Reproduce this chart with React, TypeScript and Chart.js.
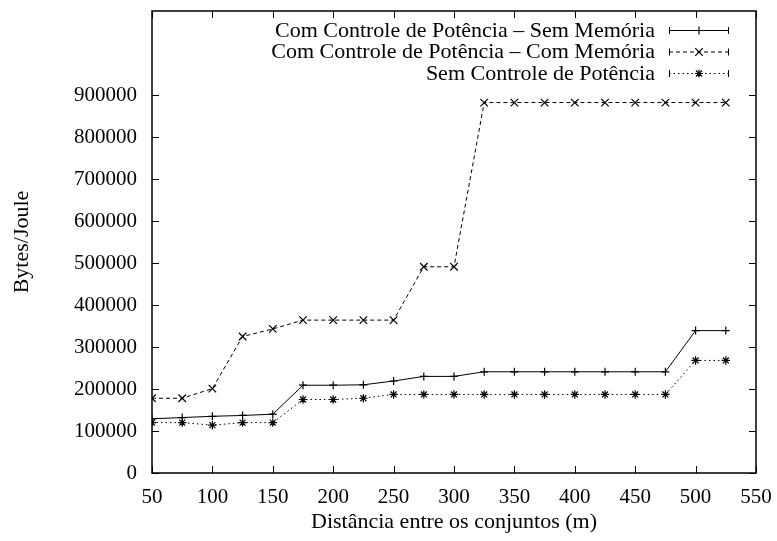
import React, { useEffect, useRef } from "react";
import { Chart, registerables } from "chart.js";

Chart.register(...registerables);

const distances = [50, 75, 100, 125, 150, 175, 200, 225, 250, 275, 300, 325, 350, 375, 400, 425, 450, 475, 500, 525];

const semMemoria = [129000, 132000, 135000, 137000, 140000, 209000, 209000, 210000, 219000, 230000, 230000, 241000, 241000, 241000, 241000, 241000, 241000, 241000, 339000, 339000];

const comMemoria = [178000, 178000, 201000, 325000, 343000, 364000, 364000, 364000, 364000, 491000, 491000, 882000, 882000, 882000, 882000, 882000, 882000, 882000, 882000, 882000];

const semControle = [120000, 120000, 114000, 120000, 120000, 175000, 175000, 178000, 187000, 187000, 187000, 187000, 187000, 187000, 187000, 187000, 187000, 187000, 268000, 268000];

const seriesLabels = [
  "Com Controle de Potência – Sem Memória",
  "Com Controle de Potência – Com Memória",
  "Sem Controle de Potência",
];

const xTitle = "Distância entre os conjuntos (m)";
const yTitle = "Bytes/Joule";

const FONT = '"Liberation Serif", "Times New Roman", serif';

function drawMarker(ctx: CanvasRenderingContext2D, style: string, x: number, y: number) {
  ctx.save();
  ctx.setLineDash([]);
  ctx.lineWidth = 1.2;
  ctx.strokeStyle = "#000";
  ctx.beginPath();
  const r = 4;
  if (style === "cross" || style === "star") {
    ctx.moveTo(x - r, y);
    ctx.lineTo(x + r, y);
    ctx.moveTo(x, y - r);
    ctx.lineTo(x, y + r);
  }
  if (style === "crossRot" || style === "star") {
    const d = style === "star" ? 3 : 3.8;
    ctx.moveTo(x - d, y - d);
    ctx.lineTo(x + d, y + d);
    ctx.moveTo(x - d, y + d);
    ctx.lineTo(x + d, y - d);
  }
  ctx.stroke();
  ctx.restore();
}

const framePlugin = {
  id: "gnuplotFrame",
  beforeDatasetsDraw(chart: any) {
    const { ctx, chartArea } = chart;
    const { left, right, top, bottom } = chartArea;
    const xs = chart.scales.x;
    const ys = chart.scales.y;
    const tl = 7;
    ctx.save();
    ctx.strokeStyle = "#000";
    ctx.lineWidth = 1;
    ctx.setLineDash([]);
    ctx.beginPath();
    xs.ticks.forEach((t: any) => {
      const px = Math.round(xs.getPixelForValue(t.value)) + 0.5;
      ctx.moveTo(px, bottom);
      ctx.lineTo(px, bottom - tl);
      ctx.moveTo(px, top);
      ctx.lineTo(px, top + tl);
    });
    ys.ticks.forEach((t: any) => {
      const py = Math.round(ys.getPixelForValue(t.value)) + 0.5;
      ctx.moveTo(left, py);
      ctx.lineTo(left + tl, py);
      ctx.moveTo(right, py);
      ctx.lineTo(right - tl, py);
    });
    ctx.stroke();
    ctx.lineWidth = 1.5;
    ctx.strokeRect(left, top, right - left, bottom - top);
    ctx.restore();
  },
};

const legendPlugin = {
  id: "gnuplotLegend",
  afterDraw(chart: any) {
    const { ctx } = chart;
    const textRight = 655;
    const lineStart = 669;
    const lineEnd = 729;
    const rowY = [30, 51.5, 73];
    ctx.save();
    ctx.font = `22px ${FONT}`;
    ctx.fillStyle = "#000";
    ctx.textAlign = "right";
    ctx.textBaseline = "middle";
    chart.data.datasets.forEach((ds: any, i: number) => {
      const y = rowY[i];
      ctx.fillText(ds.label, textRight, y + 1);
      ctx.strokeStyle = "#000";
      ctx.lineWidth = 1;
      ctx.setLineDash(ds.borderDash || []);
      ctx.beginPath();
      ctx.moveTo(lineStart, y + 0.5);
      ctx.lineTo(lineEnd, y + 0.5);
      ctx.stroke();
      ctx.setLineDash([]);
      ctx.beginPath();
      ctx.moveTo(lineStart + 0.5, y - 3);
      ctx.lineTo(lineStart + 0.5, y + 4);
      ctx.moveTo(lineEnd - 0.5, y - 3);
      ctx.lineTo(lineEnd - 0.5, y + 4);
      ctx.stroke();
      drawMarker(ctx, ds.pointStyle, (lineStart + lineEnd) / 2, y + 0.5);
    });
    ctx.restore();
  },
};

export default function App() {
  const ref = useRef<HTMLCanvasElement | null>(null);

  useEffect(() => {
    if (!ref.current) return;
    const toPoints = (arr: number[]) => distances.map((d, i) => ({ x: d, y: arr[i] }));
    const common = {
      borderColor: "#000",
      backgroundColor: "#000",
      borderWidth: 1,
      pointBorderColor: "#000",
      pointBackgroundColor: "#000",
      pointBorderWidth: 1.2,
      fill: false,
      tension: 0,
    };
    const chart = new Chart(ref.current, {
      type: "line",
      data: {
        datasets: [
          { ...common, label: seriesLabels[0], data: toPoints(semMemoria), pointStyle: "cross", pointRadius: 4, borderDash: [] },
          { ...common, label: seriesLabels[1], data: toPoints(comMemoria), pointStyle: "crossRot", pointRadius: 5.3, borderDash: [4, 3] },
          { ...common, label: seriesLabels[2], data: toPoints(semControle), pointStyle: "star", pointRadius: 4.2, borderDash: [1.5, 3] },
        ],
      },
      options: {
        responsive: false,
        animation: false,
        devicePixelRatio: 1,
        layout: { padding: { left: 0, top: 11, right: 21, bottom: 0 } },
        plugins: {
          legend: { display: false },
          tooltip: { enabled: false },
        },
        scales: {
          x: {
            type: "linear",
            min: 50,
            max: 550,
            grid: { display: false, drawTicks: false },
            border: { display: false },
            ticks: {
              stepSize: 50,
              color: "#000",
              padding: 12,
              maxRotation: 0,
              font: { family: FONT, size: 21 },
              callback: (v: any) => String(v),
            },
            title: {
              display: true,
              text: xTitle,
              color: "#000",
              font: { family: FONT, size: 22 },
              padding: { top: 0, bottom: 6 },
            },
            afterFit: (scale: any) => {
              scale.height = 68;
              scale.paddingLeft = 0;
              scale.paddingRight = 0;
            },
          },
          y: {
            type: "linear",
            min: 0,
            max: 1100000,
            grid: { display: false, drawTicks: false },
            border: { display: false },
            ticks: {
              stepSize: 100000,
              color: "#000",
              padding: 15,
              font: { family: FONT, size: 21 },
              callback: (v: any) => String(v),
            },
            afterBuildTicks: (scale: any) => {
              scale.ticks = scale.ticks.filter((t: any) => t.value <= 900000);
            },
            title: {
              display: true,
              text: yTitle,
              color: "#000",
              font: { family: FONT, size: 22 },
              padding: { top: 9, bottom: 0 },
            },
            afterFit: (scale: any) => {
              scale.width = 152;
              scale.paddingTop = 0;
              scale.paddingBottom = 0;
            },
          },
        },
      },
      plugins: [framePlugin, legendPlugin],
    });
    return () => chart.destroy();
  }, []);

  return (
    <div style={{ position: "absolute", left: 0, top: 0, width: 777, height: 541, background: "#fff" }}>
      <canvas ref={ref} width={777} height={541} style={{ display: "block" }} />
    </div>
  );
}
